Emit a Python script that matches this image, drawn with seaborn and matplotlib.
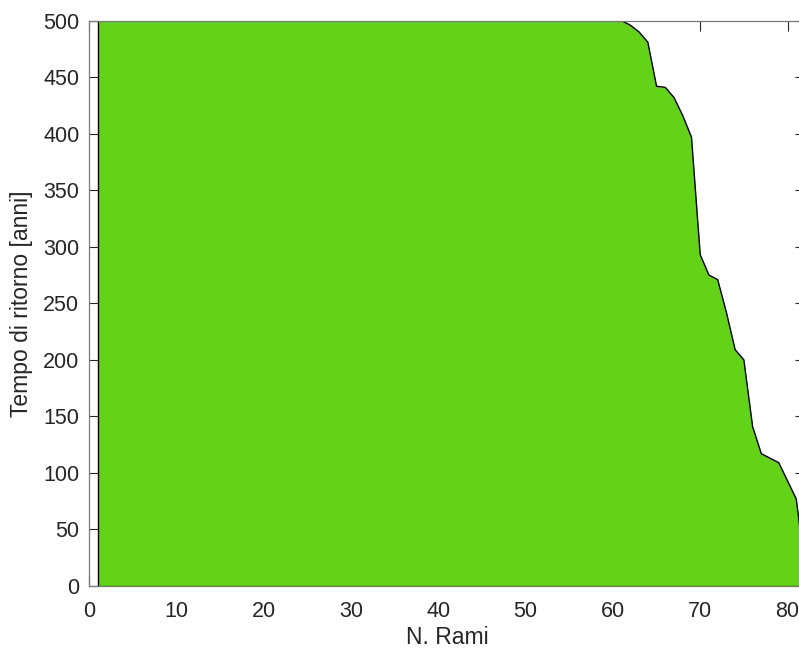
import matplotlib
matplotlib.use("Agg")
import matplotlib.pyplot as plt
import seaborn as sns
import pandas as pd

# Return period per branch, sorted in decreasing order (capped at 500 years)
n_rami = list(range(1, 83))
tempo_ritorno = [500] * 61 + [
    496, 490, 481, 442, 441, 432, 416, 397, 293, 275,
    271, 242, 209, 200, 141, 117, 113, 109, 93, 77, 15,
]
x_ticks = [0, 10, 20, 30, 40, 50, 60, 70, 80]
y_ticks = [0, 50, 100, 150, 200, 250, 300, 350, 400, 450, 500]

df = pd.DataFrame({"rami": n_rami, "tempo": tempo_ritorno})

sns.set_style("white")
plt.rcParams["font.family"] = ["Liberation Sans", "DejaVu Sans"]

fig = plt.figure(figsize=(7.99, 6.5), dpi=100)
ax = fig.add_axes([0.1114, 0.0985, 0.8961, 0.8697])

fill_color = "#62d316"
ax.fill_between(df["rami"], 0, df["tempo"], color=fill_color, linewidth=0, zorder=2)
sns.lineplot(data=df, x="rami", y="tempo", color="black", linewidth=1.0, ax=ax, zorder=3)
# closing edges of the area: side walls and baseline
ax.vlines([df["rami"].iloc[0], df["rami"].iloc[-1]], 0,
          [df["tempo"].iloc[0], df["tempo"].iloc[-1]], color="black", linewidth=1.0, zorder=3)
ax.hlines(0, df["rami"].iloc[0], df["rami"].iloc[-1], color="#2a4a10", linewidth=1.0, zorder=3)

ax.set_xlim(0, 82)
ax.set_ylim(0, 500)
ax.set_xticks(x_ticks)
ax.set_yticks(y_ticks)

for side in ["left", "right", "top", "bottom"]:
    ax.spines[side].set_visible(True)
    ax.spines[side].set_color("#7a7a7a")
    ax.spines[side].set_linewidth(0.9)
    ax.spines[side].set_zorder(4)

ax.tick_params(axis="both", which="major", direction="in", length=7, width=0.8,
               color="#262626", labelsize=15.5, labelcolor="#262626",
               top=True, right=True, bottom=True, left=True)
ax.tick_params(axis="x", pad=10.5)
ax.tick_params(axis="y", pad=7)

ax.set_xlabel("N. Rami", fontsize=16.5, color="#262626", labelpad=3)
ax.set_ylabel("Tempo di ritorno [anni]", fontsize=16.5, color="#262626", labelpad=7)

fig.savefig("out.png", dpi=100)
